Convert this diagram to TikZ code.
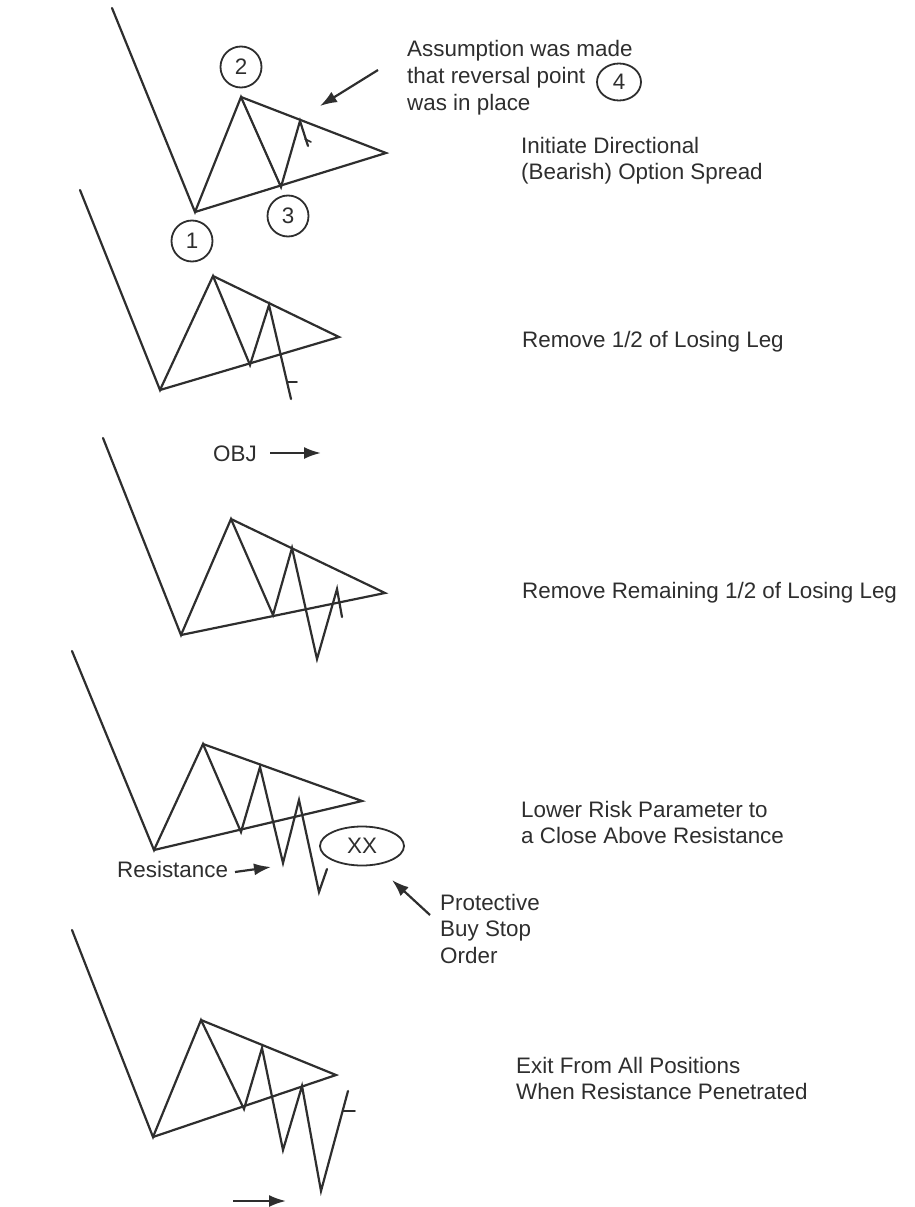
\documentclass[tikz,border=0pt]{standalone}
\usepackage{fontspec}
\setmainfont{Liberation Sans}
\usetikzlibrary{arrows.meta,shapes.geometric}
\definecolor{ink}{HTML}{2E2E2E}
\begin{document}
\begin{tikzpicture}[x=1pt,y=-1pt,
  chart/.style={line width=2.2pt, draw=ink, line join=miter, line cap=round},
  lbl/.style={font=\fontsize{22.4}{26.5}\selectfont, text=ink, inner sep=0pt, anchor=base west, align=left},
  num/.style={draw=ink, line width=1.8pt, circle, minimum size=41pt, inner sep=0pt, font=\fontsize{22.4}{26.5}\selectfont, text=ink},
  oval/.style={draw=ink, line width=1.8pt, ellipse, inner sep=0pt, font=\fontsize{22.4}{26.5}\selectfont, text=ink},
  ptr/.style={line width=2.2pt, draw=ink, -{Latex[length=17pt,width=12pt]}}
]
\useasboundingbox (0,0) rectangle (914,1207);

% ---------------- Panel 1 ----------------
\coordinate (a1) at (112,8);
\coordinate (b1) at (195,212);
\coordinate (p1) at (241,97);
\coordinate (l1) at (281,187);
\coordinate (q1) at (300,121);
\coordinate (x1) at (386,153);
\coordinate (f1) at (308,146);
\coordinate (t1a) at (305,139);
\coordinate (t1b) at (311,142);
\draw[chart] (a1) -- (b1) -- (p1) -- (l1) -- (q1) -- (f1);
\draw[chart] (b1) -- (x1) -- (p1);
\draw[chart, line width=1.6pt] (t1a) -- (t1b);
\node[num] (n1) at (192,241) {1};
\node[num] (n2) at (241,67) {2};
\node[num] (n3) at (288,216) {3};
\node[oval, minimum width=44pt, minimum height=37pt] (n4) at (619,82) {4};
% anchor = baseline of the last line
\node[lbl] (assume) at (407,110) {Assumption was made\\that reversal point\\was in place};
\coordinate (as1) at (378,70);
\coordinate (as2) at (320,106);
\draw[ptr] (as1) -- (as2);
\node[lbl] (t1) at (521,179.5) {Initiate Directional\\(Bearish) Option Spread};

% ---------------- Panel 2 ----------------
\coordinate (a2) at (80,190);
\coordinate (b2) at (160,390);
\coordinate (p2) at (213,276);
\coordinate (l2) at (250,365);
\coordinate (q2) at (269,305);
\coordinate (d2) at (291,399);
\coordinate (x2) at (339,337);
\coordinate (k2a) at (287,382);
\coordinate (k2b) at (297,382);
\draw[chart] (a2) -- (b2) -- (p2) -- (l2) -- (q2) -- (d2);
\draw[chart] (b2) -- (x2) -- (p2);
\draw[chart, line width=1.6pt] (k2a) -- (k2b);
\node[lbl] (t2) at (522,347) {Remove 1/2 of Losing Leg};

% ---------------- Panel 3 ----------------
\node[lbl] (obj) at (213,461) {OBJ};
\coordinate (ob1) at (270,453);
\coordinate (ob2) at (321,453);
\draw[ptr] (ob1) -- (ob2);
\coordinate (a3) at (103,438);
\coordinate (b3) at (181,635);
\coordinate (p3) at (231,519);
\coordinate (l3) at (273,615);
\coordinate (q3) at (292,548);
\coordinate (d3) at (317,659);
\coordinate (u3) at (337,589);
\coordinate (e3) at (342,617);
\coordinate (x3) at (385,593);
\draw[chart] (a3) -- (b3) -- (p3) -- (l3) -- (q3) -- (d3) -- (u3) -- (e3);
\draw[chart] (b3) -- (x3) -- (p3);
\node[lbl] (t3) at (522,598) {Remove Remaining 1/2 of Losing Leg};

% ---------------- Panel 4 ----------------
\coordinate (a4) at (72,651);
\coordinate (b4) at (154,850);
\coordinate (p4) at (203,744);
\coordinate (l4) at (241,832);
\coordinate (q4) at (260,767);
\coordinate (d4) at (283,863);
\coordinate (u4) at (299,800);
\coordinate (g4) at (319,892);
\coordinate (e4) at (327,869);
\coordinate (x4) at (362,801);
\draw[chart] (a4) -- (b4) -- (p4) -- (l4) -- (q4) -- (d4) -- (u4) -- (g4) -- (e4);
\draw[chart] (b4) -- (x4) -- (p4);
\node[oval, minimum width=84pt, minimum height=39pt] (xx) at (362,846) {XX};
\node[lbl] (res) at (117,877) {Resistance};
\coordinate (rs1) at (235,872);
\coordinate (rs2) at (271,867);
\draw[ptr] (rs1) -- (rs2);
\node[lbl] (prot) at (440,963) {Protective\\Buy Stop\\Order};
\coordinate (pr1) at (430,915);
\coordinate (pr2) at (392,880);
\draw[ptr] (pr1) -- (pr2);
\node[lbl] (t4) at (521,843.5) {Lower Risk Parameter to\\a Close Above Resistance};

% ---------------- Panel 5 ----------------
\coordinate (a5) at (72,930);
\coordinate (b5) at (153,1137);
\coordinate (p5) at (201,1020);
\coordinate (l5) at (244,1109);
\coordinate (q5) at (262,1048);
\coordinate (d5) at (283,1150);
\coordinate (u5) at (302,1086);
\coordinate (g5) at (321,1191);
\coordinate (e5) at (348,1091);
\coordinate (x5) at (336,1075);
\coordinate (k5a) at (343,1111);
\coordinate (k5b) at (355,1111);
\draw[chart] (a5) -- (b5) -- (p5) -- (l5) -- (q5) -- (d5) -- (u5) -- (g5) -- (e5);
\draw[chart] (b5) -- (x5) -- (p5);
\draw[chart, line width=1.6pt] (k5a) -- (k5b);
\coordinate (bt1) at (233,1201);
\coordinate (bt2) at (286,1201);
\draw[ptr] (bt1) -- (bt2);
\node[lbl] (t5) at (516,1099.5) {Exit From All Positions\\When Resistance Penetrated};
\end{tikzpicture}
\end{document}
